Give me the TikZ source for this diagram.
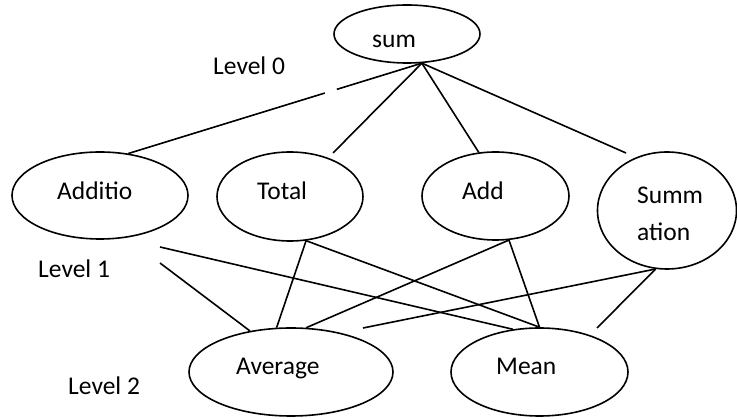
\documentclass[tikz,border=0pt]{standalone}
\usepackage{fontspec}
\setmainfont{Carlito}
\usetikzlibrary{shapes.geometric,calc}
\tikzset{
  oval/.style={draw=black, line width=1.6pt, ellipse, inner sep=0pt},
  lbl/.style={anchor=base west, inner sep=0pt, font=\fontsize{25.5}{36}\selectfont},
  conn/.style={draw=black, line width=1.6pt}
}
\begin{document}
\begin{tikzpicture}[x=1pt,y=-1pt]
\useasboundingbox (0,0) rectangle (737,419);
% ellipses
\node[oval, minimum width=146pt, minimum height=58pt] (sum) at (407,34) {};
\node[oval, minimum width=176pt, minimum height=87pt] (addi) at (100,195.5) {};
\node[oval, minimum width=146pt, minimum height=89pt] (total) at (290,196.5) {};
\node[oval, minimum width=147pt, minimum height=88pt] (add) at (495.5,196) {};
\node[oval, minimum width=139pt, minimum height=117pt] (summ) at (667,210.5) {};
\node[oval, minimum width=204pt, minimum height=88pt] (avg) at (291,372) {};
\node[oval, minimum width=177pt, minimum height=88pt] (mean) at (539.5,372) {};
% texts
\node[lbl] (tsum) at (372,48) {sum};
\node[lbl] (tadd) at (57,200) {Additio};
\node[lbl] (ttot) at (257,200) {Total};
\node[lbl] (tad) at (462,200) {Add};
\node[lbl] (tsumm) at (637,204) {Summ};
\node[lbl] (tatn) at (637,241) {ation};
\node[lbl] (tavg) at (236,375) {Average};
\node[lbl] (tmean) at (496,375) {Mean};
\node[lbl] (l0) at (213,75) {Level 0};
\node[lbl] (l1) at (38,278) {Level 1};
\node[lbl] (l2) at (68,395) {Level 2};
% free ends
\coordinate (fa) at (160,247);
\coordinate (fb) at (160,263);
\coordinate (ft) at (333,153);
\coordinate (fs) at (626,153);
\coordinate (fc) at (363,328);
\coordinate (fd) at (597,328);
% connectors level 0 -> 1
\draw[conn] (sum.-63.4) -- (addi.56);
\draw[white, line width=4pt] ($(sum.-63.4)!0.29!(addi.56)$) -- ($(sum.-63.4)!0.33!(addi.56)$);
\draw[conn] (sum.-63.4) -- (ft);
\draw[conn] (sum.-63.4) -- (add.111);
\draw[conn] (sum.-63.4) -- (fs);
% connectors level 1 -> 2
\draw[conn] (fa) -- (mean.122.9);
\draw[conn] (fb) -- (avg.135);
\draw[conn] (total.-70.2) -- (avg.108.8);
\draw[conn] (total.-70.2) -- (mean.90);
\draw[conn] (add.-73) -- (avg.71.2);
\draw[conn] (add.-73) -- (mean.90);
\draw[conn] (summ.259.4) -- (fc);
\draw[conn] (summ.259.4) -- (fd);
\end{tikzpicture}
\end{document}
